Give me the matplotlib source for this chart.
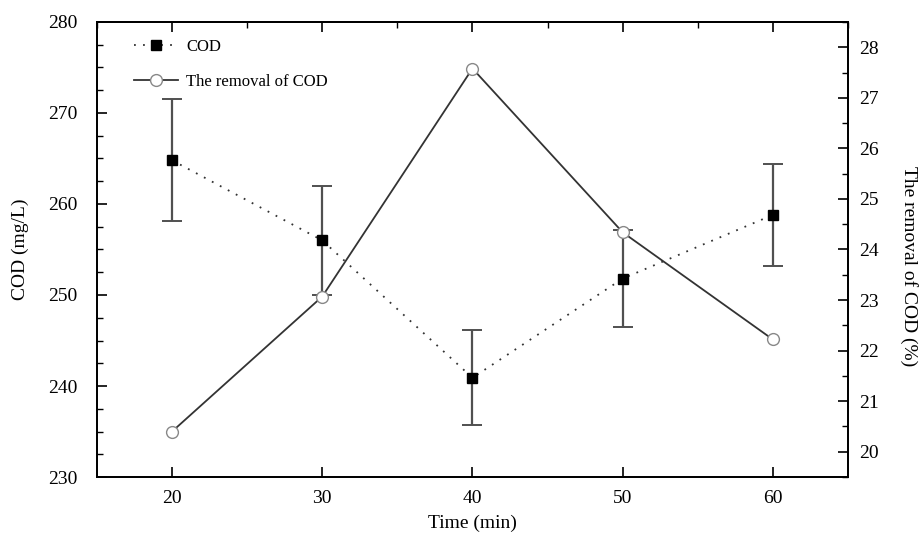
import matplotlib
matplotlib.use("Agg")
import matplotlib.pyplot as plt
from matplotlib.ticker import MultipleLocator

plt.rcParams['font.family'] = ['Liberation Serif', 'DejaVu Serif']

time_min = [20, 30, 40, 50, 60]
cod = [264.8, 256.0, 240.9, 251.8, 258.8]
cod_err = [6.7, 6.0, 5.2, 5.3, 5.6]
removal = [20.4, 23.07, 27.58, 24.34, 22.22]

x_ticks = [20, 30, 40, 50, 60]
left_ticks = [230, 240, 250, 260, 270, 280]
right_ticks = [20, 21, 22, 23, 24, 25, 26, 27, 28]

fig = plt.figure(figsize=(9.2, 5.35), dpi=100)
ax = fig.add_axes([0.1054, 0.1084, 0.8163, 0.8505])
ax2 = ax.twinx()

ax.set_xlim(15, 65)
ax.set_ylim(230, 280)
ax2.set_ylim(19.5, 28.5)

ax.errorbar(time_min, cod, yerr=cod_err, fmt='none', ecolor='#505050',
            elinewidth=1.6, capsize=7.5, capthick=1.4, zorder=2)
l1, = ax.plot(time_min, cod, linestyle=(0, (1, 4)), color='#333333', linewidth=1.3,
              marker='s', markersize=7.5, markerfacecolor='black',
              markeredgecolor='black', label='COD', zorder=3)
l2, = ax2.plot(time_min, removal, linestyle='-', color='#333333', linewidth=1.3,
               marker='o', markersize=8.5, markerfacecolor='white',
               markeredgecolor='#888888', label='The removal of COD', zorder=3)

ax.set_xticks(x_ticks)
ax.set_yticks(left_ticks)
ax.yaxis.set_minor_locator(MultipleLocator(2.5))
ax2.set_yticks(right_ticks)
ax2.yaxis.set_minor_locator(MultipleLocator(0.5))

ax.tick_params(axis='x', which='major', direction='in', length=7, width=1.2,
               labelsize=14, pad=9)
ax.tick_params(axis='y', which='major', direction='in', length=7, width=1.2,
               labelsize=14, pad=14)
ax.tick_params(axis='y', which='minor', direction='in', length=4, width=1.0)
ax.tick_params(axis='x', which='both', top=False)
ax2.tick_params(axis='y', which='major', direction='in', length=7, width=1.2,
                labelsize=14, pad=8)
ax2.tick_params(axis='y', which='minor', direction='in', length=4, width=1.0)

top = ax.secondary_xaxis('top')
top.set_xticks(x_ticks)
top.xaxis.set_minor_locator(MultipleLocator(5))
top.tick_params(which='major', direction='in', length=7, width=1.2, labeltop=False)
top.tick_params(which='minor', direction='in', length=4, width=1.0)
top.set_xticklabels([])

for a in (ax, ax2):
    for s in a.spines.values():
        s.set_linewidth(1.3)
top.spines['top'].set_linewidth(1.3)

ax.set_xlabel('Time (min)', fontsize=14, labelpad=6)
ax.set_ylabel('COD (mg/L)', fontsize=14, labelpad=14)
ax2.set_ylabel('The removal of COD (%)', fontsize=14, rotation=270, labelpad=28)
ax2.yaxis.label.set_y(0.464)

leg = ax.legend(handles=[l1, l2], loc='upper left', bbox_to_anchor=(0.03, 0.995),
                frameon=False, fontsize=12, handlelength=2.6, labelspacing=1.1,
                handletextpad=0.5)

fig.savefig('out.png', dpi=100)
